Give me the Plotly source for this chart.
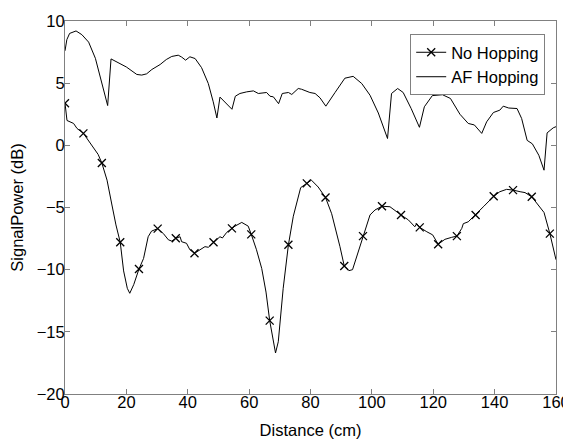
import plotly.graph_objects as go

# AF Hopping curve
af_x = [0, 0.6, 1.5, 3.6, 5.5, 7.7, 9.9, 12.0, 13.0, 13.9, 15.0, 17, 20, 23.4, 25, 26.6, 28.3, 31, 33, 34.8,
        36.9, 38, 39.3, 40.7, 42.4, 44.5, 46.7, 48.3, 49.5, 50.5, 52.7, 54.4, 55.5, 57, 59.2, 61.4, 63, 64.6,
        65.7, 66.8, 67.9, 69.6, 70.8, 72.8, 73.9, 76, 77.1, 79.8, 81.5, 83.1, 85, 88, 91.2, 93.9, 96.7, 99.4,
        102.1, 105.1, 106.4, 108.4, 110.2, 112.8, 115.5, 117.1, 119.7, 123, 125.6, 128.7, 131.4, 133.4, 135.8,
        137.4, 139.6, 141.7, 142.8, 144.6, 147.3, 148.8, 150.6, 152.3, 154.4, 156.1, 157.1, 159.1, 160]
af_y = [7.6, 8.5, 9.0, 9.2, 8.9, 8.3, 7.0, 5.1, 4.2, 3.2, 6.95, 6.7, 6.3, 5.7, 5.65, 5.75, 6.1, 6.5, 6.9, 7.15,
        7.25, 7.1, 6.85, 7.12, 6.98, 6.25, 4.97, 3.5, 2.2, 3.88, 3.36, 2.9, 3.95, 4.17, 4.3, 4.38, 4.17, 4.2,
        4.25, 3.95, 3.9, 3.35, 4.17, 4.25, 4.09, 4.57, 4.51, 4.25, 4.17, 3.82, 3.15, 4.25, 5.4, 5.55, 4.97, 4.03,
        2.6, 0.55, 4.17, 4.57, 4.25, 2.96, 1.45, 3.1, 4.0, 4.07, 3.77, 2.5, 1.76, 1.64, 0.96,
        1.89, 2.64, 2.83, 3.15, 3.0, 2.96, 2.16, 0.4, 0.12, -0.8, -2.0, 1.0, 1.41, 1.5]

# No Hopping curve
nh_x = [0, 0.65, 2.8, 3.9, 6.0, 8.8, 10.8, 12.0, 13.7, 15.3, 16.6, 18.0, 19.1, 20.3, 21.1, 22.4, 24.1, 25.6,
        27.1, 28.2, 30.2, 32.0, 33.7, 34.8, 36.1, 37.5, 38.0, 39.6, 40.7, 42.2, 44.0, 45.6, 46.7, 48.4, 49.4,
        50.5, 51.3, 52.7, 54.4, 55.4, 57.6, 59.7, 60.7, 62.4, 64.1, 65.5, 66.7, 67.9, 68.6, 69.5, 70.6, 71.1,
        72.8, 74.4, 76.8, 78.8, 80.3, 82.5, 84.9, 86.9, 88.0, 89.6, 91.0, 92.5, 93.7, 95.0, 97.1, 99.4, 101.0,
        103.3, 105.9, 107.8, 109.5, 111.9, 114.0, 114.6, 115.6, 117.9, 119.8, 121.6, 123.8, 126.0, 127.7, 129.3,
        129.8, 131.4, 133.8, 136.5, 139.7, 141.7, 143.9, 146.0, 148.3, 149.9, 152.1, 154.2, 156.1, 158.0, 160.0]
nh_y = [3.39, 2.0, 1.76, 1.36, 0.96, 0.02, -0.73, -1.42, -2.8, -4.8, -6.4, -7.8, -10.1, -11.5, -11.9, -11.2, -9.95, -9.1,
        -7.35, -6.9, -6.7, -7.08, -7.6, -7.7, -7.48, -7.35, -7.75, -7.88, -8.4, -8.68, -8.42, -8.15, -8.2, -7.8, -7.6,
        -7.35, -7.45, -7.0, -6.68, -6.5, -6.2, -6.5, -7.16, -8.4, -9.9, -11.8, -14.1, -15.8, -16.7, -15.8, -12.5, -11.5,
        -8.0, -5.7, -3.4, -3.06, -2.8, -3.35, -4.2, -5.5, -6.55, -8.15, -9.7, -10.08, -10.0, -8.95, -7.3, -5.6, -5.2,
        -4.9, -4.94, -5.25, -5.6, -6.0, -6.55, -6.3, -6.6, -6.95, -7.2, -7.95, -7.56, -7.4, -7.3, -6.68,
        -6.3, -6.15, -5.6, -4.9, -4.1, -3.73, -3.54, -3.6, -3.73, -3.8, -4.14, -4.8, -5.4, -7.1, -9.2]

# positions (distance) where the No Hopping markers are drawn
marker_x = [0, 6.0, 12.0, 18.0, 24.1, 30.2, 36.1, 42.2, 48.4, 54.4, 60.7, 66.7, 72.8, 78.8, 84.9, 91.0, 97.1,
            103.3, 109.5, 115.6, 121.6, 127.7, 133.8, 139.7, 146.0, 152.1, 158.0]

x_ticks = [0, 20, 40, 60, 80, 100, 120, 140, 160]
y_ticks = [-20, -15, -10, -5, 0, 5, 10]

lookup = dict(zip(nh_x, nh_y))
mk_x, mk_y = [], []
for xv in marker_x:
    mk_x += [xv, None]
    mk_y += [lookup[xv], None]

FONT = "Liberation Sans, Arial, sans-serif"
FS = 16.5
fig = go.Figure()
fig.add_trace(go.Scatter(x=nh_x, y=nh_y, mode="lines", line=dict(color="black", width=1),
                         showlegend=False, hoverinfo="skip"))
fig.add_trace(go.Scatter(x=mk_x, y=mk_y, mode="lines+markers", name="No Hopping",
                         connectgaps=False, line=dict(color="black", width=1),
                         marker=dict(symbol="x-thin", size=8, color="black",
                                     line=dict(color="black", width=1.3))))
fig.add_trace(go.Scatter(x=af_x, y=af_y, mode="lines", name="AF Hopping", line=dict(color="black", width=1)))

axis_common = dict(showgrid=False, zeroline=False, showline=True, linecolor="#808080", linewidth=1,
                   mirror="allticks", ticks="inside", ticklen=5, tickcolor="#808080", automargin=False,
                   tickfont=dict(family=FONT, size=FS, color="black"))
fig.update_xaxes(range=[0, 160], tickvals=x_ticks, ticklabelstandoff=-7, **axis_common,
                 title=dict(text="Distance (cm)", font=dict(family=FONT, size=FS, color="black"), standoff=14))
fig.update_yaxes(range=[-20, 10], tickvals=y_ticks, ticklabelstandoff=-4, **axis_common,
                 title=dict(text="SignalPower (dB)", font=dict(family=FONT, size=FS, color="black"), standoff=11))

# page body adds an 8 px offset, so the figure is sized to the remaining window
fig.update_layout(
    width=563, height=432,
    margin=dict(l=57, r=15, t=13, b=46, autoexpand=False),
    plot_bgcolor="white", paper_bgcolor="white",
    font=dict(family=FONT, size=FS, color="black"),
    legend=dict(x=0.978, y=0.965, xanchor="right", yanchor="top", bgcolor="white",
                bordercolor="#808080", borderwidth=1, font=dict(family=FONT, size=FS),
                tracegroupgap=0, itemwidth=30),
)
fig.write_html("out.html")
